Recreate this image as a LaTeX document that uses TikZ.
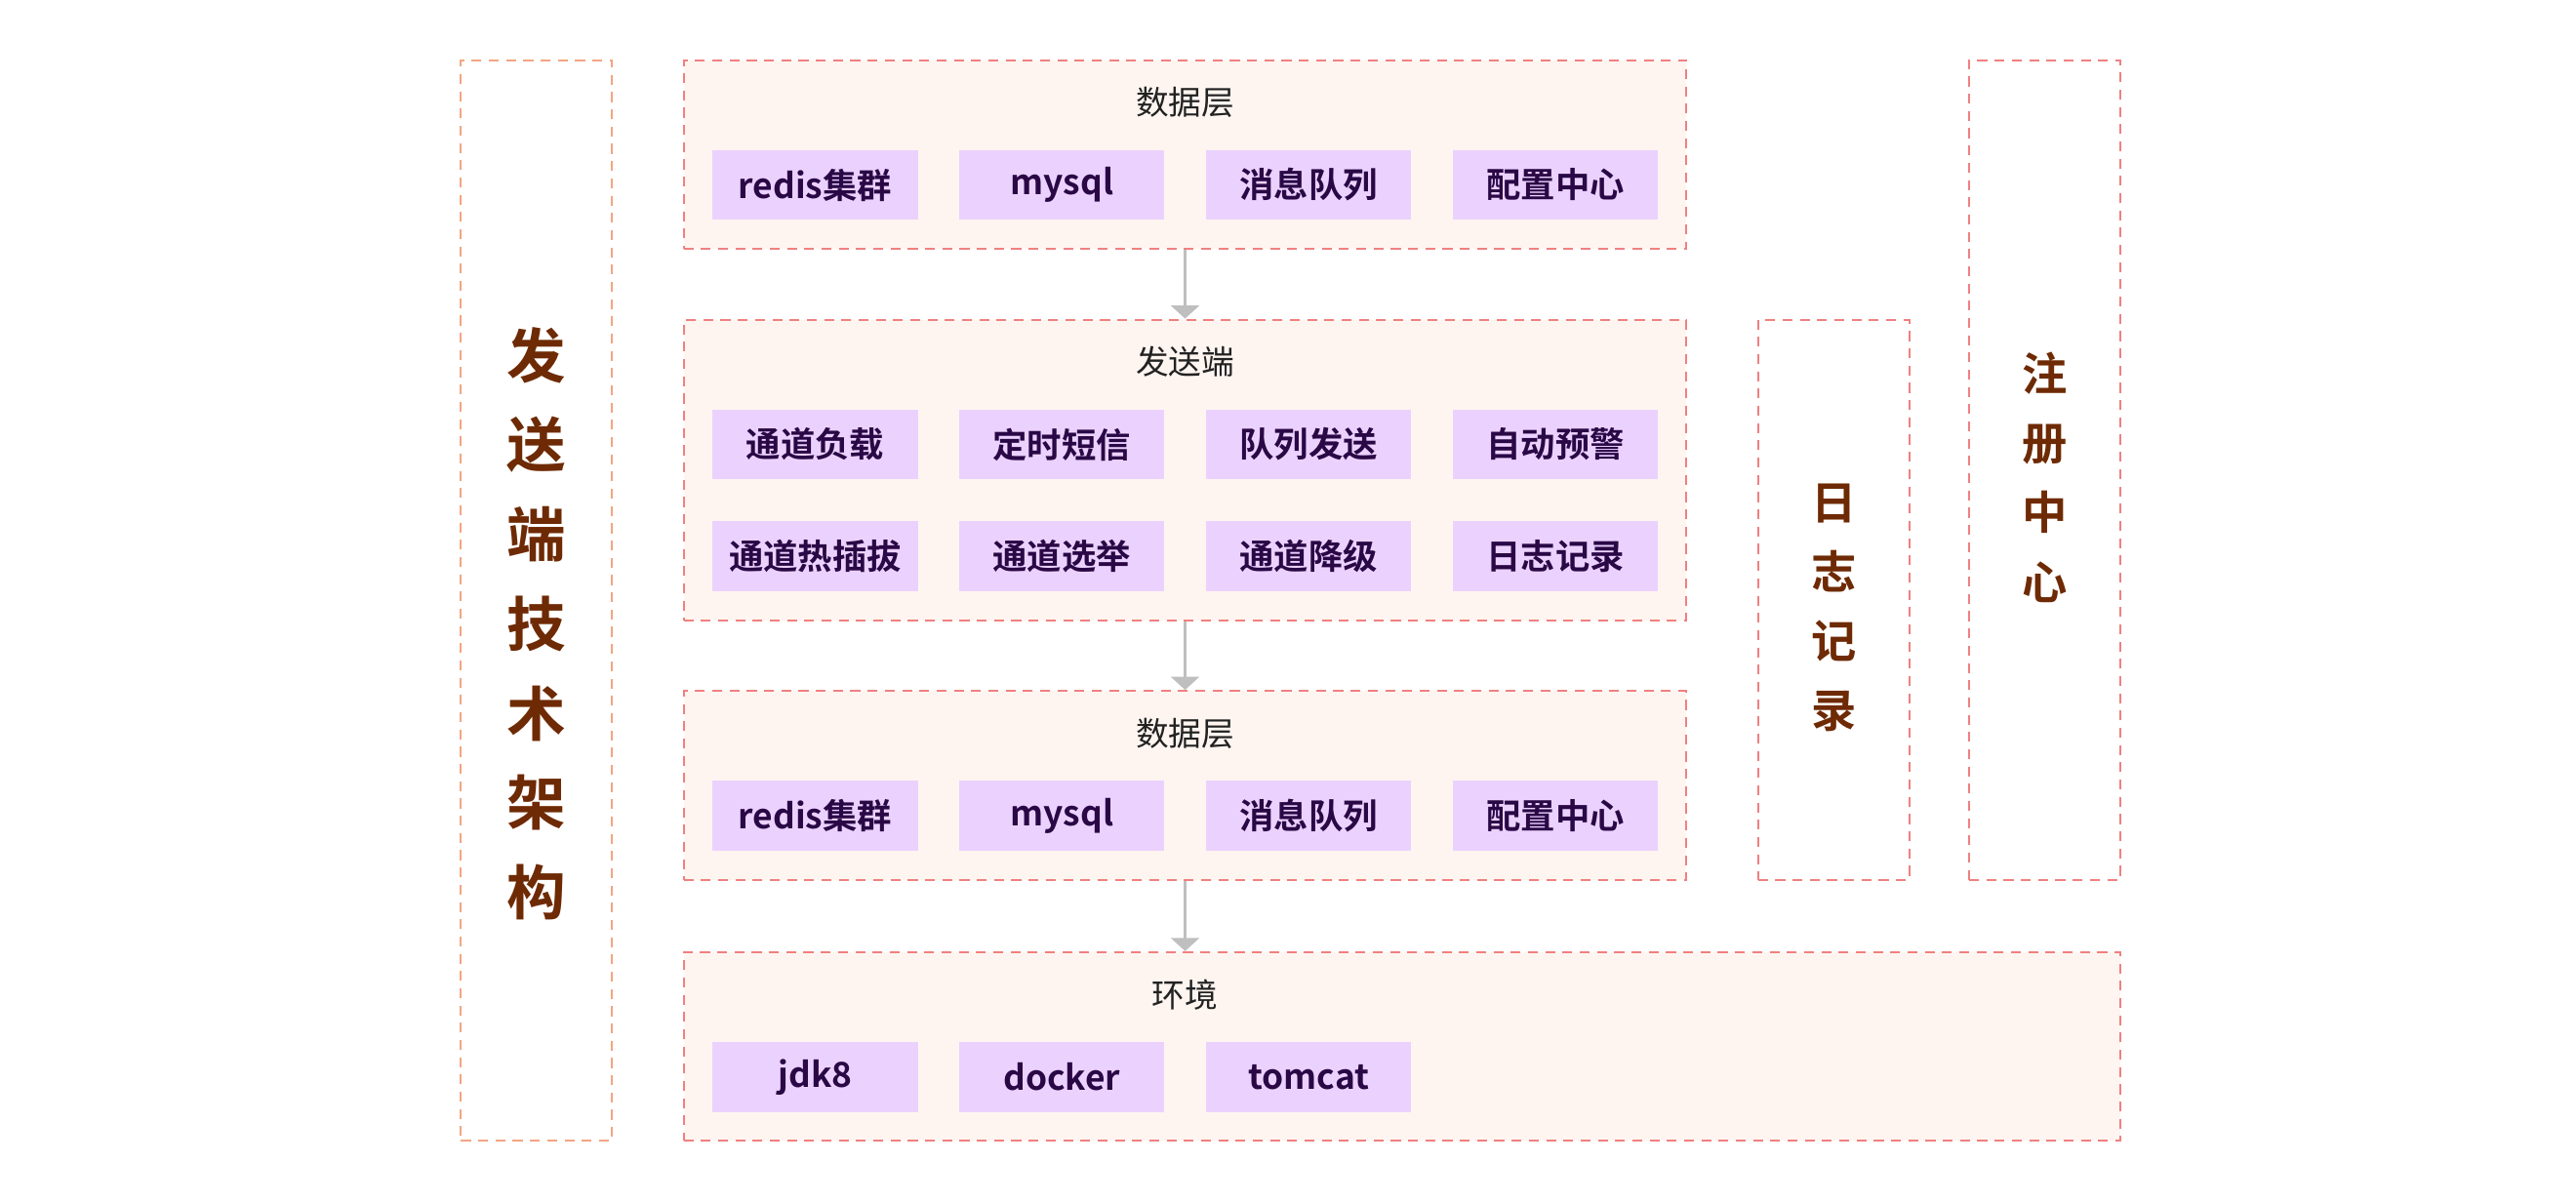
\documentclass[tikz,border=0pt]{standalone}
\usepackage{fontspec}
\setmainfont{Noto Sans CJK SC}[BoldFont={Noto Sans CJK SC Bold}]
\usetikzlibrary{positioning, arrows.meta}

\definecolor{paneline}{RGB}{240,128,128}
\definecolor{archline}{RGB}{243,165,130}
\definecolor{panefill}{RGB}{254,245,240}
\definecolor{itemfill}{RGB}{235,210,254}
\definecolor{itemtext}{RGB}{42,8,69}
\definecolor{sidetext}{RGB}{110,42,4}
\definecolor{titletext}{RGB}{34,34,34}
\definecolor{flowgray}{RGB}{191,191,191}

\begin{document}
\begin{tikzpicture}[
    x = 1pt, y = -1pt,
    > = {Triangle[width = 17pt, length = 8pt]},
    pane/.style  = {draw = paneline, fill = panefill, line width = 1.2pt,
                    dash pattern = on 6pt off 4.5pt, anchor = north west, inner sep = 0pt},
    side/.style  = {draw = paneline, line width = 1.2pt, dash pattern = on 6pt off 4.5pt,
                    anchor = north west, inner sep = 0pt, minimum width = 92pt},
    title/.style = {text = titletext, inner sep = 0pt, font = \fontsize{20}{20}\selectfont},
    item/.style  = {fill = itemfill, text = itemtext, inner sep = 0pt,
                    minimum width = 124.8pt, minimum height = 42.7pt,
                    font = \fontsize{21}{21}\bfseries\selectfont},
    big/.style   = {text = sidetext, align = center, inner sep = 0pt,
                    font = \fontsize{36}{54.5}\bfseries\selectfont},
    small/.style = {text = sidetext, align = center, inner sep = 0pt,
                    font = \fontsize{27.5}{42.2}\bfseries\selectfont},
    flow/.style  = {->, draw = flowgray, line width = 2pt}
]

\useasboundingbox (0,0) rectangle (1568,732.3);

% Layers
\node[pane, minimum width = 610.5pt, minimum height = 115pt] (data1) at (415.5,36)  {};
\node[pane, minimum width = 610.5pt, minimum height = 183pt] (send)  at (415.5,194) {};
\node[pane, minimum width = 610.5pt, minimum height = 115pt] (data2) at (415.5,420) {};
\node[pane, minimum width = 874.5pt, minimum height = 115pt] (env)   at (415.5,579) {};

% Side columns
\node[side, draw = archline, minimum height = 658pt] (arch) at (280,36)    {};
\node[side, minimum height = 341pt]                  (log)  at (1069.5,194) {};
\node[side, minimum height = 499pt]                  (reg)  at (1198,36)    {};

\node[big]   (archtext) at ([yshift=-14pt]arch.center)  {发\\送\\端\\技\\术\\架\\构};
\node[small] (logtext)  at ([yshift=-5pt]log.center)    {日\\志\\记\\录};
\node[small] (regtext)  at ([yshift=-4.5pt]reg.center)  {注\\册\\中\\心};

% Titles
\coordinate (envtop) at (data1.north |- env.north);
\node[title] (t1) at ([yshift=-26.4pt]data1.north) {数据层};
\node[title] (t2) at ([yshift=-26.4pt]send.north)  {发送端};
\node[title] (t3) at ([yshift=-26.4pt]data2.north) {数据层};
\node[title] (t4) at ([yshift=-26.4pt]envtop)      {环境};

% Data layer (top)
\node[item, anchor = north west] (d1a) at ([shift={(18.1,55)}]data1.north west) {redis集群};
\node[item, right = 25pt of d1a] (d1b) {mysql};
\node[item, right = 25pt of d1b] (d1c) {消息队列};
\node[item, right = 25pt of d1c] (d1d) {配置中心};

% Sender
\node[item, anchor = north west] (s1) at ([shift={(18.1,55)}]send.north west) {通道负载};
\node[item, right = 25pt of s1]  (s2) {定时短信};
\node[item, right = 25pt of s2]  (s3) {队列发送};
\node[item, right = 25pt of s3]  (s4) {自动预警};
\node[item, below = 25pt of s1]  (s5) {通道热插拔};
\node[item, right = 25pt of s5]  (s6) {通道选举};
\node[item, right = 25pt of s6]  (s7) {通道降级};
\node[item, right = 25pt of s7]  (s8) {日志记录};

% Data layer (bottom)
\node[item, anchor = north west] (d2a) at ([shift={(18.1,55)}]data2.north west) {redis集群};
\node[item, right = 25pt of d2a] (d2b) {mysql};
\node[item, right = 25pt of d2b] (d2c) {消息队列};
\node[item, right = 25pt of d2c] (d2d) {配置中心};

% Environment
\node[item, anchor = north west] (e1) at ([shift={(18.1,55)}]env.north west) {jdk8};
\node[item, right = 25pt of e1]  (e2) {docker};
\node[item, right = 25pt of e2]  (e3) {tomcat};

% Flow
\draw[flow] (data1.south) -- (send.north);
\draw[flow] (send.south)  -- (data2.north);
\draw[flow] (data2.south) -- (envtop);

\end{tikzpicture}
\end{document}
